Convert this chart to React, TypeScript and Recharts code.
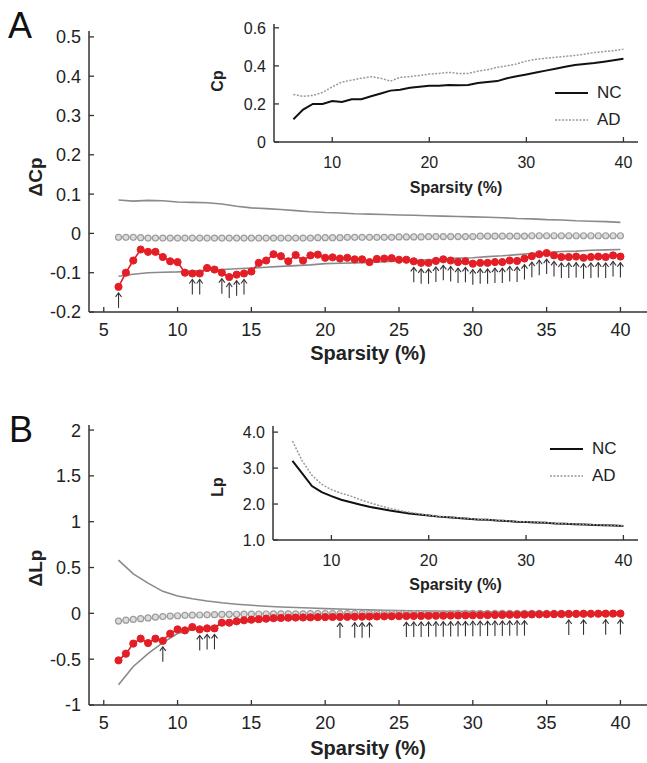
import React from 'react'
import { ComposedChart, LineChart, Line, Scatter, XAxis, YAxis, Legend } from 'recharts'

const FONT = '"Liberation Sans", Arial, Helvetica, sans-serif'
const RED = '#e41e26'

// sparsity levels (%) for the difference curves
const SPARSITY = [
  6, 6.5, 7, 7.5, 8, 8.5, 9, 9.5, 10, 10.5, 11, 11.5, 12, 12.5, 13, 13.5, 14, 14.5, 15, 15.5,
  16, 16.5, 17, 17.5, 18, 18.5, 19, 19.5, 20, 20.5, 21, 21.5, 22, 22.5, 23, 23.5, 24, 24.5, 25,
  25.5, 26, 26.5, 27, 27.5, 28, 28.5, 29, 29.5, 30, 30.5, 31, 31.5, 32, 32.5, 33, 33.5, 34, 34.5,
  35, 35.5, 36, 36.5, 37, 37.5, 38, 38.5, 39, 39.5, 40
]
// coarser grid for thresholds and group curves
const SPARSITY_COARSE = [
  6, 7, 8, 9, 10, 11, 12, 13, 14, 15, 16, 17, 18, 19, 20, 21, 22, 23, 24, 25, 26, 27, 28, 29, 30,
  31, 32, 33, 34, 35, 36, 37, 38, 39, 40
]
const GROUPS = ['NC', 'AD']

// ---- panel A: clustering coefficient ----
const CP_DIFF = [
  -0.136, -0.1, -0.069, -0.041, -0.047, -0.047, -0.06, -0.071, -0.073, -0.1, -0.102, -0.102,
  -0.088, -0.092, -0.1, -0.111, -0.105, -0.102, -0.097, -0.075, -0.069, -0.053, -0.058, -0.071,
  -0.055, -0.069, -0.056, -0.054, -0.062, -0.061, -0.064, -0.062, -0.066, -0.066, -0.073, -0.065,
  -0.064, -0.063, -0.067, -0.067, -0.071, -0.075, -0.075, -0.07, -0.066, -0.069, -0.073, -0.071,
  -0.077, -0.075, -0.075, -0.073, -0.073, -0.069, -0.07, -0.064, -0.058, -0.053, -0.05, -0.056,
  -0.06, -0.06, -0.059, -0.062, -0.06, -0.059, -0.06, -0.056, -0.059
]
const CP_NULL = [
  -0.01, -0.01, -0.01, -0.011, -0.012, -0.012, -0.012, -0.012, -0.012, -0.012, -0.012, -0.012,
  -0.012, -0.012, -0.012, -0.012, -0.012, -0.012, -0.012, -0.012, -0.012, -0.012, -0.012, -0.012,
  -0.012, -0.012, -0.012, -0.011, -0.011, -0.011, -0.011, -0.01, -0.01, -0.01, -0.01, -0.01,
  -0.01, -0.01, -0.009, -0.009, -0.009, -0.009, -0.008, -0.008, -0.008, -0.008, -0.008, -0.008,
  -0.008, -0.007, -0.007, -0.007, -0.007, -0.007, -0.007, -0.007, -0.006, -0.006, -0.006, -0.006,
  -0.006, -0.006, -0.006, -0.006, -0.006, -0.006, -0.006, -0.006, -0.006
]
const CP_UPPER = [
  0.085, 0.082, 0.084, 0.083, 0.08, 0.079, 0.078, 0.075, 0.069, 0.065, 0.063, 0.061, 0.058,
  0.055, 0.053, 0.052, 0.05, 0.049, 0.048, 0.047, 0.046, 0.045, 0.044, 0.043, 0.042, 0.041,
  0.04, 0.038, 0.037, 0.035, 0.034, 0.032, 0.031, 0.03, 0.028
]
const CP_LOWER = [
  -0.109, -0.104, -0.1, -0.099, -0.098, -0.096, -0.094, -0.092, -0.09, -0.088, -0.086, -0.084,
  -0.082, -0.08, -0.077, -0.076, -0.075, -0.074, -0.072, -0.07, -0.069, -0.067, -0.065, -0.063,
  -0.062, -0.059, -0.057, -0.054, -0.051, -0.049, -0.046, -0.045, -0.043, -0.042, -0.041
]
const CP_SIG = [
  6, 11, 11.5, 13, 13.5, 14, 14.5, 26, 26.5, 27, 27.5, 28, 28.5, 29, 29.5, 30, 30.5, 31, 31.5, 32,
  32.5, 33, 33.5, 34, 34.5, 35, 35.5, 36, 36.5, 37, 37.5, 38, 38.5, 39, 39.5, 40
]
const CP_NC = [
  0.12, 0.17, 0.2, 0.2, 0.215, 0.21, 0.225, 0.225, 0.24, 0.255, 0.27, 0.275, 0.285, 0.29, 0.295,
  0.295, 0.3, 0.298, 0.3, 0.31, 0.315, 0.32, 0.335, 0.345, 0.355, 0.365, 0.375, 0.385, 0.395,
  0.405, 0.41, 0.415, 0.422, 0.43, 0.437
]
const CP_AD = [
  0.25, 0.24, 0.245, 0.26, 0.29, 0.315, 0.325, 0.335, 0.343, 0.335, 0.32, 0.34, 0.343, 0.35,
  0.357, 0.36, 0.366, 0.36, 0.36, 0.372, 0.38, 0.393, 0.4, 0.41, 0.425, 0.435, 0.44, 0.445, 0.45,
  0.455, 0.462, 0.47, 0.475, 0.48, 0.488
]

// ---- panel B: characteristic path length ----
const LP_DIFF = [
  -0.513, -0.44, -0.33, -0.276, -0.324, -0.276, -0.3, -0.222, -0.175, -0.186, -0.149, -0.175,
  -0.164, -0.164, -0.102, -0.102, -0.087, -0.076, -0.069, -0.064, -0.058, -0.053, -0.05, -0.048,
  -0.046, -0.045, -0.044, -0.042, -0.041, -0.04, -0.039, -0.038, -0.037, -0.036, -0.035, -0.034,
  -0.033, -0.032, -0.031, -0.03, -0.029, -0.028, -0.027, -0.026, -0.025, -0.024, -0.023, -0.022,
  -0.021, -0.02, -0.019, -0.018, -0.017, -0.016, -0.015, -0.014, -0.012, -0.011, -0.01, -0.009,
  -0.008, -0.007, -0.006, -0.005, -0.005, -0.004, -0.004, -0.003, -0.003
]
const LP_NULL = [
  -0.084, -0.075, -0.066, -0.058, -0.05, -0.042, -0.035, -0.03, -0.026, -0.022, -0.02, -0.018,
  -0.016, -0.014, -0.012, -0.011, -0.01, -0.009, -0.008, -0.007, -0.007, -0.006, -0.006, -0.005,
  -0.005, -0.005, -0.004, -0.004, -0.004, -0.004, -0.003, -0.003, -0.003, -0.003, -0.003, -0.003,
  -0.002, -0.002, -0.002, -0.002, -0.002, -0.002, -0.002, -0.002, -0.002, -0.002, -0.001, -0.001,
  -0.001, -0.001, -0.001, -0.001, -0.001, -0.001, -0.001, -0.001, -0.001, -0.001, -0.001, -0.001,
  -0.001, -0.001, -0.001, -0.001, -0.001, -0.001, -0.001, -0.001, -0.001
]
const LP_UPPER = [
  0.58, 0.43, 0.33, 0.24, 0.19, 0.16, 0.135, 0.115, 0.1, 0.088, 0.078, 0.07, 0.064, 0.058, 0.052,
  0.047, 0.042, 0.038, 0.034, 0.031, 0.028, 0.025, 0.023, 0.021, 0.019, 0.017, 0.015, 0.014,
  0.013, 0.012, 0.011, 0.01, 0.009, 0.008, 0.007
]
const LP_LOWER = [
  -0.78, -0.58, -0.44, -0.32, -0.22, -0.18, -0.16, -0.12, -0.1, -0.085, -0.075, -0.068, -0.062,
  -0.057, -0.052, -0.048, -0.045, -0.042, -0.039, -0.036, -0.034, -0.032, -0.03, -0.028, -0.026,
  -0.025, -0.024, -0.022, -0.021, -0.02, -0.019, -0.018, -0.017, -0.016, -0.015
]
const LP_SIG = [
  9, 11.5, 12, 12.5, 21, 22, 22.5, 23, 25.5, 26, 26.5, 27, 27.5, 28, 28.5, 29, 29.5, 30, 30.5, 31,
  31.5, 32, 32.5, 33, 33.5, 36.5, 37.5, 39, 40
]
const LP_NC = [
  3.2, 2.85, 2.5, 2.33, 2.22, 2.12, 2.05, 1.98, 1.92, 1.87, 1.82, 1.78, 1.74, 1.71, 1.68, 1.65,
  1.63, 1.61, 1.59, 1.57, 1.56, 1.54, 1.53, 1.51, 1.5, 1.49, 1.48, 1.46, 1.45, 1.44, 1.43, 1.42,
  1.41, 1.4, 1.39
]
const LP_AD = [
  3.75, 3.2, 2.8, 2.55, 2.4, 2.3, 2.22, 2.12, 2.03, 1.95, 1.88, 1.82, 1.77, 1.73, 1.69, 1.66,
  1.64, 1.62, 1.6, 1.58, 1.565, 1.55, 1.535, 1.52, 1.505, 1.495, 1.485, 1.465, 1.455, 1.445,
  1.435, 1.425, 1.415, 1.405, 1.395
]

const MAIN_X_TICKS = [5, 10, 15, 20, 25, 30, 35, 40]
const INSET_X_TICKS = [10, 20, 30, 40]
const CP_TICKS = [-0.2, -0.1, 0, 0.1, 0.2, 0.3, 0.4, 0.5]
const LP_TICKS = [-1, -0.5, 0, 0.5, 1, 1.5, 2]
const CP_INSET_TICKS = [0, 0.2, 0.4, 0.6]
const LP_INSET_TICKS = [1, 2, 3, 4]

const rows = (xs: number[], ys: number[]) => xs.map((x, i) => ({ x, v: ys[i] }))
const sigRows = (sig: number[], diff: number[]) =>
  sig.map((x) => ({ x, v: diff[SPARSITY.indexOf(x)] }))

const AXIS = '#333'

const makeXTick = (fontSize: number, dy: number) => (props: any) => {
  const { x, y, payload } = props
  return (
    <g>
      <line x1={x} x2={x} y1={y} y2={y - 5} stroke={AXIS} strokeWidth={1.3} />
      <text x={x} y={y + dy} textAnchor="middle" fontSize={fontSize} fontFamily={FONT} fill="#222">
        {payload.value}
      </text>
    </g>
  )
}

const makeYTick = (fontSize: number, fmt: (v: number) => string) => (props: any) => {
  const { x, y, payload } = props
  return (
    <g>
      <line x1={x} x2={x + 5} y1={y} y2={y} stroke={AXIS} strokeWidth={1.3} />
      <text
        x={x - 8}
        y={y}
        dy="0.36em"
        textAnchor="end"
        fontSize={fontSize}
        fontFamily={FONT}
        fill="#222"
      >
        {fmt(payload.value)}
      </text>
    </g>
  )
}

const SigArrow = (props: any) => {
  const { cx, cy } = props
  if (cx == null || cy == null) return null
  const tip = cy + 6
  const tail = tip + 15
  return (
    <g stroke="#333" strokeWidth={1.1} fill="none">
      <line x1={cx} y1={tip} x2={cx} y2={tail} />
      <polyline points={`${cx - 3},${tip + 4} ${cx},${tip} ${cx + 3},${tip + 4}`} />
    </g>
  )
}

const InsetLegend = ({ payload }: any) => {
  const items = [...(payload || [])].sort(
    (a: any, b: any) => GROUPS.indexOf(a.value) - GROUPS.indexOf(b.value)
  )
  return (
    <div style={{ fontFamily: FONT, fontSize: 17, color: '#222' }}>
      {items.map((entry: any) => (
        <div key={entry.value} style={{ display: 'flex', alignItems: 'center', height: 27 }}>
          <svg width={42} height={10}>
            <line
              x1={0}
              x2={33}
              y1={5}
              y2={5}
              stroke={entry.value === 'AD' ? '#999' : '#111'}
              strokeWidth={entry.value === 'AD' ? 1.5 : 2}
              strokeDasharray={entry.value === 'AD' ? '2 1.5' : undefined}
            />
          </svg>
          <span>{entry.value}</span>
        </div>
      ))}
    </div>
  )
}

interface Margin {
  top: number
  right: number
  bottom: number
  left: number
}

interface MainPanelProps {
  top: number
  height: number
  margin: Margin
  domain: [number, number]
  ticks: number[]
  diff: number[]
  nullMean: number[]
  upper: number[]
  lower: number[]
  sig: number[]
  labelOffset: number
}

const MainPanel: React.FC<MainPanelProps> = ({
  top,
  height,
  margin,
  domain,
  ticks,
  diff,
  nullMean,
  upper,
  lower,
  sig,
  labelOffset
}) => (
  <div style={{ position: 'absolute', left: 0, top }}>
    <ComposedChart width={647} height={height} margin={margin}>
      <XAxis
        dataKey="x"
        type="number"
        domain={[4, 41.8]}
        ticks={MAIN_X_TICKS}
        allowDataOverflow
        height={50}
        tickSize={0}
        tickMargin={0}
        tickLine={false}
        tick={makeXTick(18, 24)}
        axisLine={{ stroke: AXIS, strokeWidth: 1.5 }}
        label={{
          value: 'Sparsity (%)',
          position: 'insideBottom',
          offset: labelOffset,
          fontSize: 20,
          fontWeight: 'bold',
          fontFamily: FONT,
          fill: '#222'
        }}
      />
      <YAxis
        type="number"
        domain={domain}
        ticks={ticks}
        allowDataOverflow
        width={60}
        tickSize={0}
        tickMargin={0}
        tickLine={false}
        tick={makeYTick(18, (v) => String(v))}
        axisLine={{ stroke: AXIS, strokeWidth: 1.5 }}
      />
      <Line
        data={rows(SPARSITY_COARSE, upper)}
        dataKey="v"
        stroke="#8a8a8a"
        strokeWidth={1.6}
        dot={false}
        activeDot={false}
        isAnimationActive={false}
      />
      <Line
        data={rows(SPARSITY_COARSE, lower)}
        dataKey="v"
        stroke="#8a8a8a"
        strokeWidth={1.6}
        dot={false}
        activeDot={false}
        isAnimationActive={false}
      />
      <Line
        data={rows(SPARSITY, nullMean)}
        dataKey="v"
        stroke="#a8a8a8"
        strokeWidth={1}
        dot={{ r: 3, fill: '#dcdcdc', stroke: '#9c9c9c', strokeWidth: 1.2 }}
        activeDot={false}
        isAnimationActive={false}
      />
      <Line
        data={rows(SPARSITY, diff)}
        dataKey="v"
        stroke={RED}
        strokeWidth={1.6}
        dot={{ r: 3.6, fill: RED, stroke: RED, strokeWidth: 1 }}
        activeDot={false}
        isAnimationActive={false}
      />
      <Scatter data={sigRows(sig, diff)} dataKey="v" shape={SigArrow} isAnimationActive={false} />
    </ComposedChart>
  </div>
)

interface InsetProps {
  top: number
  margin: Margin
  domain: [number, number]
  ticks: number[]
  fmt: (v: number) => string
  nc: number[]
  ad: number[]
  legendTop: number
  legendLeft: number
  labelOffset: number
}

const Inset: React.FC<InsetProps> = ({
  top,
  margin,
  domain,
  ticks,
  fmt,
  nc,
  ad,
  legendTop,
  legendLeft,
  labelOffset
}) => (
  <div style={{ position: 'absolute', left: 200, top }}>
    <LineChart width={447} height={200} margin={margin}>
      <XAxis
        dataKey="x"
        type="number"
        domain={[4, 41.5]}
        ticks={INSET_X_TICKS}
        allowDataOverflow
        height={50}
        tickSize={0}
        tickMargin={0}
        tickLine={false}
        tick={makeXTick(16, 26)}
        axisLine={{ stroke: AXIS, strokeWidth: 1.5 }}
        label={{
          value: 'Sparsity (%)',
          position: 'insideBottom',
          offset: labelOffset,
          fontSize: 16,
          fontWeight: 'bold',
          fontFamily: FONT,
          fill: '#222'
        }}
      />
      <YAxis
        type="number"
        domain={domain}
        ticks={ticks}
        allowDataOverflow
        width={40}
        tickSize={0}
        tickMargin={0}
        tickLine={false}
        tick={makeYTick(16, fmt)}
        axisLine={{ stroke: AXIS, strokeWidth: 1.5 }}
      />
      <Legend
        layout="horizontal"
        verticalAlign="middle"
        align="center"
        content={InsetLegend}
        wrapperStyle={{ left: legendLeft, top: legendTop, width: 'auto', height: 'auto' }}
      />
      <Line
        name="NC"
        data={rows(SPARSITY_COARSE, nc)}
        dataKey="v"
        stroke="#111"
        strokeWidth={2}
        dot={false}
        activeDot={false}
        isAnimationActive={false}
      />
      <Line
        name="AD"
        data={rows(SPARSITY_COARSE, ad)}
        dataKey="v"
        stroke="#999"
        strokeWidth={1.5}
        strokeDasharray="2 1.5"
        dot={false}
        activeDot={false}
        isAnimationActive={false}
      />
    </LineChart>
  </div>
)

const rotated = (x: number, y: number, size: number, text: string) => (
  <text
    x={x}
    y={y}
    transform={`rotate(-90 ${x} ${y})`}
    textAnchor="middle"
    dominantBaseline="central"
    fontSize={size}
    fontWeight="bold"
    fontFamily={FONT}
    fill="#222"
  >
    {text}
  </text>
)

export default function App() {
  return (
    <div
      style={{
        position: 'absolute',
        left: 0,
        top: 0,
        width: 647,
        height: 763,
        background: '#fff',
        overflow: 'hidden',
        fontFamily: FONT
      }}
    >
      <MainPanel
        top={0}
        height={380}
        margin={{ top: 31, right: 0, bottom: 18, left: 29 }}
        domain={[-0.2, 0.515]}
        ticks={CP_TICKS}
        diff={CP_DIFF}
        nullMean={CP_NULL}
        upper={CP_UPPER}
        lower={CP_LOWER}
        sig={CP_SIG}
        labelOffset={2}
      />
      <MainPanel
        top={380}
        height={383}
        margin={{ top: 45, right: 0, bottom: 8, left: 29 }}
        domain={[-1, 2.055]}
        ticks={LP_TICKS}
        diff={LP_DIFF}
        nullMean={LP_NULL}
        upper={LP_UPPER}
        lower={LP_LOWER}
        sig={LP_SIG}
        labelOffset={0}
      />
      <Inset
        top={0}
        margin={{ top: 24, right: 9, bottom: 8, left: 34 }}
        domain={[0, 0.62]}
        ticks={CP_INSET_TICKS}
        fmt={(v) => String(v)}
        nc={CP_NC}
        ad={CP_AD}
        legendLeft={355}
        legendTop={79}
        labelOffset={-1}
      />
      <Inset
        top={400}
        margin={{ top: 26, right: 9, bottom: 10, left: 33 }}
        domain={[1, 4.17]}
        ticks={LP_INSET_TICKS}
        fmt={(v) => v.toFixed(1)}
        nc={LP_NC}
        ad={LP_AD}
        legendLeft={350}
        legendTop={35}
        labelOffset={0}
      />
      <svg
        width={647}
        height={763}
        style={{ position: 'absolute', left: 0, top: 0, pointerEvents: 'none' }}
      >
        <text x={8} y={38} fontSize={36} fontFamily={FONT} fill="#111">
          A
        </text>
        <text x={9} y={442} fontSize={36} fontFamily={FONT} fill="#111">
          B
        </text>
        {rotated(35, 177, 19, 'ΔCp')}
        {rotated(35, 568, 19, 'ΔLp')}
        {rotated(217, 81, 16, 'Cp')}
        {rotated(217, 487, 16, 'Lp')}
      </svg>
    </div>
  )
}
